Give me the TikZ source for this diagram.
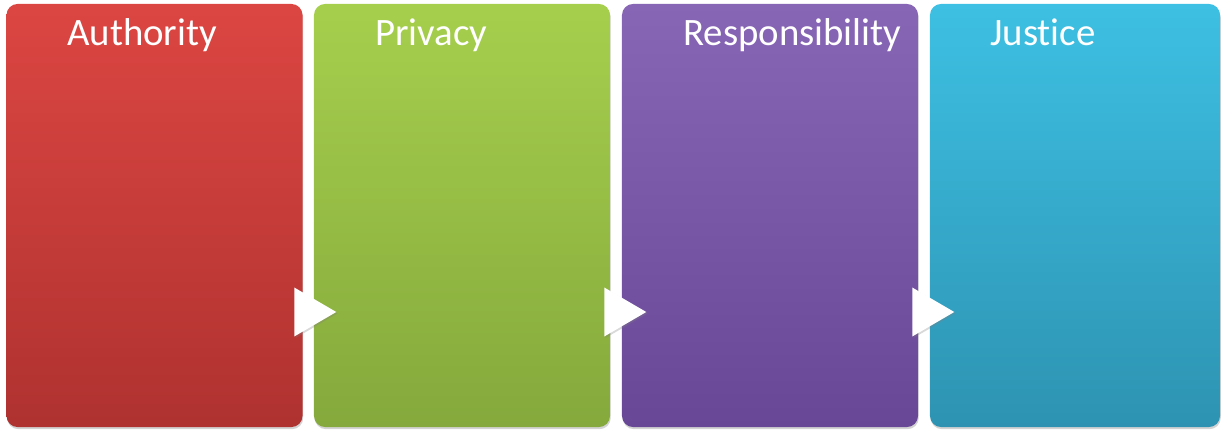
\documentclass[tikz,border=0pt]{standalone}
\usepackage{fontspec}
\setmainfont{Carlito}[Ligatures=NoCommon]
\usetikzlibrary{shapes.geometric,shadows}
\definecolor{RedTop}{HTML}{DC4642}
\definecolor{RedBot}{HTML}{AF3230}
\definecolor{GreenTop}{HTML}{A6CF4D}
\definecolor{GreenBot}{HTML}{85A93C}
\definecolor{PurpleTop}{HTML}{8866B6}
\definecolor{PurpleBot}{HTML}{684896}
\definecolor{BlueTop}{HTML}{3DC0E3}
\definecolor{BlueBot}{HTML}{2E93B2}
\tikzset{
stagebox/.style= {rectangle, rounded corners=8pt, inner sep=0pt, minimum width=7.4cm, minimum height=10.575cm,
  drop shadow={shadow xshift=0.5pt, shadow yshift=-1.5pt, opacity=0.35}},
stagelabel/.style= {anchor=base west, inner sep=0pt, text=white, font=\fontsize{27.6}{32}\selectfont},
stagearrow/.style= {isosceles triangle, isosceles triangle stretches, fill=white, inner sep=0pt,
  minimum height=1.05cm, minimum width=1.225cm, anchor=apex,
  drop shadow={shadow xshift=1pt, shadow yshift=-1pt, opacity=0.3}}
}

\begin{document}
\begin{tikzpicture}[x=0.025cm, y=-0.025cm]
    \useasboundingbox (0,0) rectangle (1225,432);

    \node[stagebox, top color=RedTop, bottom color=RedBot] (auth) at (154.5,215.5) {};
    \node[stagebox, top color=GreenTop, bottom color=GreenBot] (priv) at (462,215.5) {};
    \node[stagebox, top color=PurpleTop, bottom color=PurpleBot] (resp) at (770,215.5) {};
    \node[stagebox, top color=BlueTop, bottom color=BlueBot, minimum width=7.25cm] (just) at (1075,215.5) {};

    \node[stagelabel] (authlabel) at (67,46) {Authority};
    \node[stagelabel] (privlabel) at (375,46) {Privacy};
    \node[stagelabel] (resplabel) at (683,46) {Responsibility};
    \node[stagelabel] (justlabel) at (990,46) {Justice};

    \node[stagearrow] (arrow1) at (337,312) {};
    \node[stagearrow] (arrow2) at (647,312) {};
    \node[stagearrow] (arrow3) at (955,312) {};
\end{tikzpicture}
\end{document}
